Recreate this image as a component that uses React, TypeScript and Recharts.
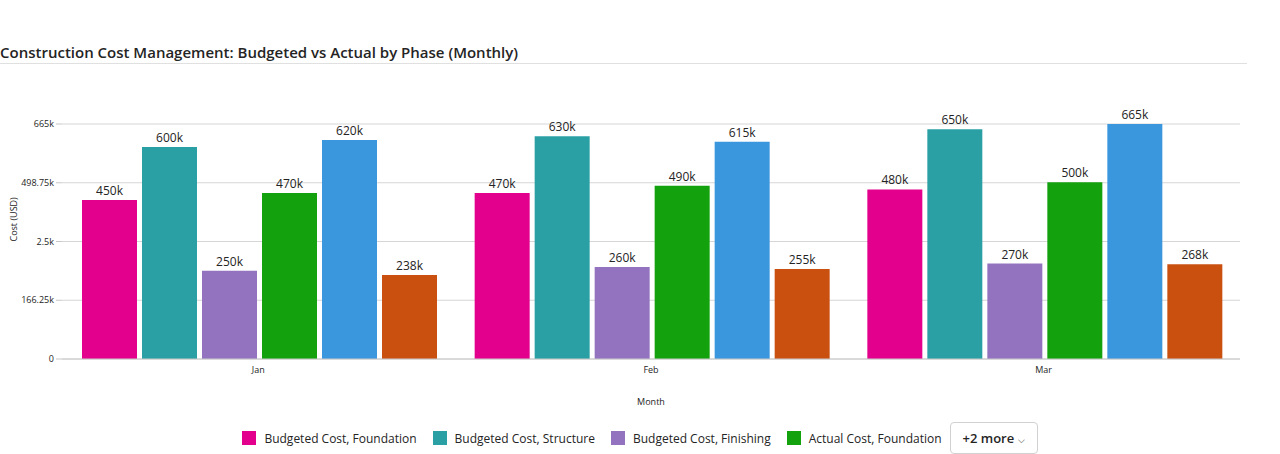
import { Bar, BarChart, CartesianGrid, LabelList, XAxis, YAxis } from "recharts";

const months = ["Jan", "Feb", "Mar"];
const budgetFoundation = [450000, 470000, 480000];
const budgetStructure = [600000, 630000, 650000];
const budgetFinishing = [250000, 260000, 270000];
const actualFoundation = [470000, 490000, 500000];
const actualStructure = [620000, 615000, 665000];
const actualFinishing = [238000, 255000, 268000];
const yTicks = [0, 166250, 332500, 498750, 665000];
const yTickLabels = ["0", "166.25k", "2.5k", "498.75k", "665k"];

const series = [
  { key: "bf", name: "Budgeted Cost, Foundation", color: "#e3008c", values: budgetFoundation },
  { key: "bs", name: "Budgeted Cost, Structure", color: "#2aa0a4", values: budgetStructure },
  { key: "bn", name: "Budgeted Cost, Finishing", color: "#9373c0", values: budgetFinishing },
  { key: "af", name: "Actual Cost, Foundation", color: "#13a10e", values: actualFoundation },
  { key: "as", name: "Actual Cost, Structure", color: "#3a96dd", values: actualStructure },
  { key: "an", name: "Actual Cost, Finishing", color: "#ca5010", values: actualFinishing },
];

const data = months.map((m, i) => {
  const row: Record<string, string | number> = { month: m };
  series.forEach((s) => (row[s.key] = s.values[i]));
  return row;
});

const font = "'Open Sans', 'Noto Sans', sans-serif";

function LegendBox() {
  return (
    <div
      style={{
        position: "absolute", left: 0, top: 422, width: 1280, display: "flex", justifyContent: "center",
        alignItems: "center", fontFamily: font, fontSize: 12, color: "#242424",
      }}
    >
      {series.slice(0, 4).map((s) => (
        <div key={s.key} style={{ display: "flex", alignItems: "center", marginRight: 16 }}>
          <span style={{ width: 14, height: 14, background: s.color, marginRight: 8, display: "inline-block" }} />
          {s.name}
        </div>
      ))}
      <div style={{ border: "1px solid #d1d1d1", borderRadius: 4, padding: "6px 12px", fontSize: 13, fontWeight: 600, marginLeft: -8 }}>
        +2 more <span style={{ fontSize: 9, fontWeight: 400 }}>⌵</span>
      </div>
    </div>
  );
}

export default function App() {
  return (
    <div style={{ position: "fixed", left: 0, top: 0, width: 1280, height: 454, background: "#fff", fontFamily: font }}>
      <div style={{ position: "absolute", left: 0, top: 42, fontSize: 15, fontWeight: 600, color: "#242424" }}>
        Construction Cost Management: Budgeted vs Actual by Phase (Monthly)
      </div>
      <div style={{ position: "absolute", left: 0, top: 63, width: 1247, height: 1, background: "#e0e0e0" }} />
      <BarChart
        width={1280}
        height={454}
        data={data}
        margin={{ top: 124, right: 40, bottom: 45, left: 2 }}
        barCategoryGap={20}
        barGap={5}
      >
        <CartesianGrid vertical={false} stroke="#d6d6d6" />
        <XAxis
          dataKey="month"
          tick={{ fontSize: 9, fill: "#242424", fontFamily: font }}
          tickLine={false}
          axisLine={{ stroke: "#c8c8c8" }}
          height={50}
          label={{ value: "Month", position: "insideBottom", offset: 4, fontSize: 9, fill: "#242424" }}
        />
        <YAxis
          domain={[0, 665000]}
          ticks={yTicks}
          tickFormatter={(v: number) => yTickLabels[yTicks.indexOf(v)]}
          tick={{ fontSize: 9, fill: "#242424", fontFamily: font }}
          tickLine={{ stroke: "#c8c8c8" }}
          axisLine={false}
          width={60}
          label={{ value: "Cost (USD)", angle: -90, position: "insideLeft", offset: 12, fontSize: 9, fill: "#242424" }}
        />
        {series.map((s) => (
          <Bar key={s.key} dataKey={s.key} name={s.name} fill={s.color} isAnimationActive={false}>
            <LabelList
              dataKey={s.key}
              position="top"
              formatter={(v: number) => `${Math.round(v / 1000)}k`}
              style={{ fontSize: 12, fill: "#242424", fontFamily: font }}
            />
          </Bar>
        ))}
      </BarChart>
      <LegendBox />
    </div>
  );
}
